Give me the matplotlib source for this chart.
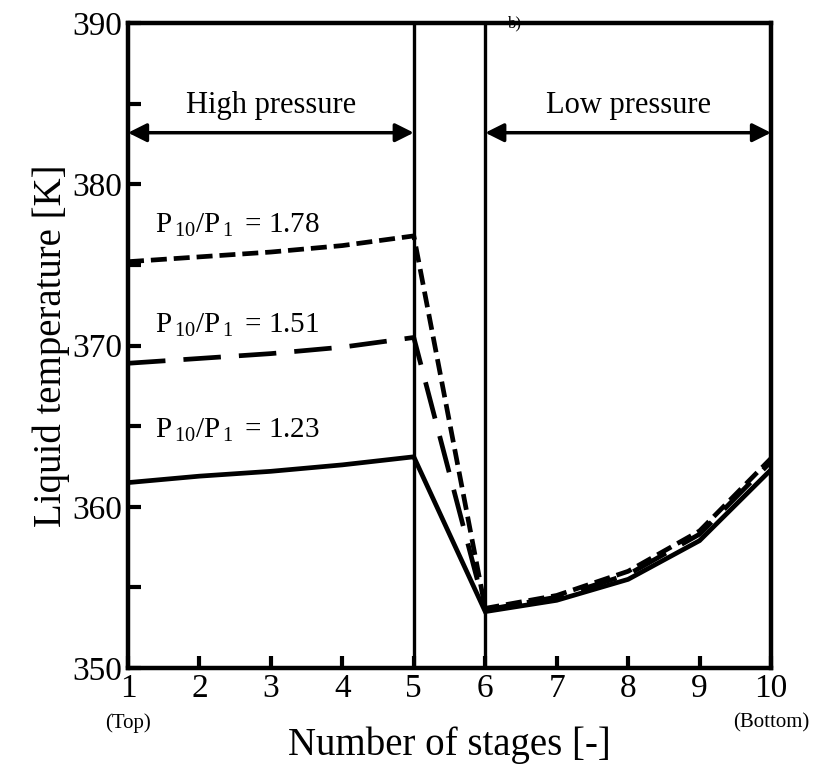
import matplotlib
matplotlib.use("Agg")
import matplotlib.pyplot as plt

plt.rcParams['font.family'] = ['Liberation Serif', 'DejaVu Serif']
plt.rcParams['mathtext.fontset'] = 'custom'
plt.rcParams['mathtext.rm'] = 'Liberation Serif'
plt.rcParams['mathtext.it'] = 'Liberation Serif'
plt.rcParams['lines.scale_dashes'] = False

stages = [1, 2, 3, 4, 5, 6, 7, 8, 9, 10]
t_123 = [361.5, 361.9, 362.2, 362.6, 363.1, 353.5, 354.2, 355.5, 357.9, 362.3]
t_151 = [368.9, 369.2, 369.5, 369.9, 370.5, 353.6, 354.4, 355.8, 358.3, 362.8]
t_178 = [375.2, 375.5, 375.8, 376.2, 376.8, 353.7, 354.5, 356.0, 358.5, 363.0]
ratio_labels = ["1.23", "1.51", "1.78"]
label_y = [364.3, 370.8, 377.0]

fig = plt.figure(figsize=(8.19, 7.69), dpi=100)
ax = fig.add_axes([0.1563, 0.1313, 0.7851, 0.8387])

ax.plot(stages, t_123, color='black', lw=3.4, solid_joinstyle='miter')
ax.plot(stages, t_151, color='black', lw=3.4, dashes=(27, 13))
ax.plot(stages, t_178, color='black', lw=3.4, dashes=(11.5, 5))

ax.axvline(5, color='black', lw=2.4)
ax.axvline(6, color='black', lw=2.4)

ax.set_xlim(1, 10)
ax.set_ylim(350, 390)
ax.set_xticks(stages)
ax.set_yticks([350, 355, 360, 365, 370, 375, 380, 385, 390])
ax.set_yticklabels(['350', '', '360', '', '370', '', '380', '', '390'])
ax.tick_params(direction='in', length=9, width=3, labelsize=24, pad=4)
for s in ax.spines.values():
    s.set_linewidth(3.2)

ax.set_xlabel('Number of stages [-]', fontsize=28, labelpad=16)
ax.set_ylabel('Liquid temperature [K]', fontsize=28, labelpad=2)

ax.text(1, -0.085, '(Top)', transform=ax.get_xaxis_transform(), ha='center', va='center', fontsize=15)
ax.text(10, -0.085, '(Bottom)', transform=ax.get_xaxis_transform(), ha='center', va='center', fontsize=15)

arrow = dict(arrowstyle='<|-|>', color='black', lw=2.5, mutation_scale=28, shrinkA=0, shrinkB=0)
ax.annotate('', xy=(1, 383.2), xytext=(5, 383.2), arrowprops=arrow)
ax.annotate('', xy=(6, 383.2), xytext=(10, 383.2), arrowprops=arrow)
ax.text(3, 384.0, 'High pressure', ha='center', va='bottom', fontsize=22)
ax.text(8, 384.0, 'Low pressure', ha='center', va='bottom', fontsize=22)

for r, yb in zip(ratio_labels, label_y):
    ax.text(1.38, yb, r'$\mathrm{P}_{\,10}/\mathrm{P}_{\,1}\,$ = ' + r, ha='left', va='baseline', fontsize=21)

ax.text(6.42, 390.0, 'b)', ha='center', va='center', fontsize=12)

fig.savefig('out.png', dpi=100)
